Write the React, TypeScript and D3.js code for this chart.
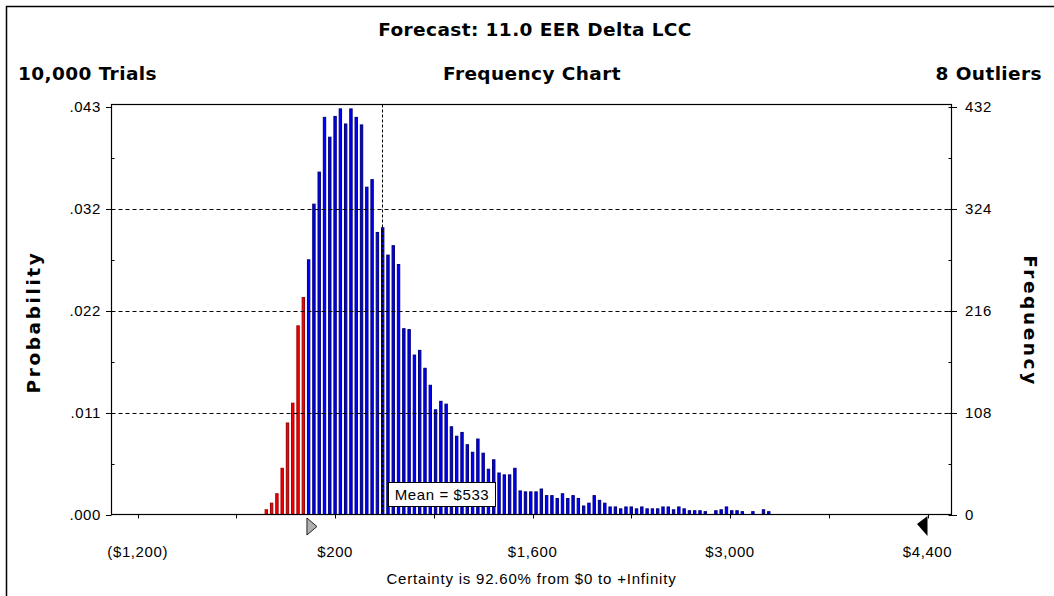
import * as d3 from "d3";

// forecast histogram: 96 bins of $37.50 starting at -$300
const binStart = -300;
const binWidth = 37.5;
const frequencies = [
  5, 12, 22, 49, 97, 118, 200, 230,
  270, 329, 363, 421, 400, 422, 430, 414, 430, 421, 413, 347, 355, 299, 304, 275, 285, 265,
  197, 196, 169, 174, 155, 137, 111, 120, 117, 93, 83, 87, 74, 66, 80, 65, 48, 58, 44,
  42, 42, 49, 25, 24, 24, 24, 27, 20, 20, 17, 22, 17, 20, 17, 9, 12, 20, 15, 12, 8, 8, 6, 8, 8,
  6, 8, 6, 6, 6, 8, 8, 5, 8, 6,
  4, 4, 4, 3, 0, 4, 5, 8, 4, 4, 3, 0, 3, 0, 5, 3,
];
const trials = 10000;
const meanValue = 533;
const certaintyFrom = 0;
const xMajorTicks = [-1200, 200, 1600, 3000, 4400];
const xMinorTicks = [-1200, -500, 200, 900, 1600, 2300, 3000, 3700, 4400];
const yTicks = [0, 108, 216, 324, 432];
const yMinorTicks = [54, 162, 270, 378];

const W = 1054;
const H = 596;
const left = 111.5;
const right = 951.5;
const top = 104.5;
const bottom = 514.5;

const small = "'Liberation Sans', Arial, sans-serif";
const bold = "'DejaVu Sans', Verdana, sans-serif";

export default function App() {
  const x = d3.scaleLinear().domain([-1200, 4400]).range([137.7, 927.5]);
  const y = d3.scaleLinear().domain([0, 432]).range([bottom, 107]);
  const money = (v: number) =>
    v < 0 ? `($${d3.format(",")(-v)})` : `$${d3.format(",")(v)}`;
  const prob = (c: number) => d3.format(".3f")(c / trials).replace(/^0/, "");

  const bars = frequencies.map((f, i) => {
    const lo = binStart + i * binWidth;
    return { lo, hi: lo + binWidth, f };
  });

  const x0 = x(certaintyFrom);
  const xEnd = x(4400);
  const xm = x(meanValue);

  return (
    <svg
      width={W}
      height={H}
      style={{ position: "absolute", left: 0, top: 0, background: "#fff" }}
    >
      <rect x={6.5} y={6.5} width={1060} height={620} fill="#fff" stroke="#000" strokeWidth={1.5} />

      <text x={535} y={36} textAnchor="middle" fontFamily={bold} fontWeight="bold" fontSize={18.5} letterSpacing={0.4}>
        Forecast: 11.0 EER Delta LCC
      </text>
      <text x={18} y={80} fontFamily={bold} fontWeight="bold" fontSize={18.5} letterSpacing={0.4}>
        10,000 Trials
      </text>
      <text x={532} y={80} textAnchor="middle" fontFamily={bold} fontWeight="bold" fontSize={18.5} letterSpacing={0.4}>
        Frequency Chart
      </text>
      <text x={1042} y={80} textAnchor="end" fontFamily={bold} fontWeight="bold" fontSize={18.5} letterSpacing={0.4}>
        8 Outliers
      </text>

      {/* bars */}
      {bars.map((b, i) =>
        b.f > 0 ? (
          <rect
            key={i}
            x={x(b.lo) + 0.5}
            y={y(b.f)}
            width={x(b.hi) - x(b.lo) - 2.9}
            height={y(0) - y(b.f)}
            fill={b.lo < certaintyFrom ? "#ff0000" : "#0000ff"}
            stroke={b.lo < certaintyFrom ? "#9a0000" : "#00007a"}
            strokeWidth={1}
          />
        ) : null
      )}

      {/* gridlines */}
      {yTicks.slice(1, -1).map((t) => (
        <line key={t} x1={left} x2={right} y1={Math.round(y(t)) + 0.5} y2={Math.round(y(t)) + 0.5}
          stroke="#000" strokeDasharray="4,3" />
      ))}

      {/* mean line */}
      <line x1={Math.round(xm) + 0.5} x2={Math.round(xm) + 0.5} y1={top} y2={bottom} stroke="#000" strokeDasharray="3,2" />

      {/* frame */}
      <rect x={left} y={top} width={right - left} height={bottom - top} fill="none" stroke="#000" strokeWidth={1.2} />

      {/* left and right axes */}
      {yTicks.map((t) => (
        <g key={t}>
          <line x1={106} x2={t === 0 || t === 432 ? left : 115} y1={Math.round(y(t)) + 0.5} y2={Math.round(y(t)) + 0.5} stroke="#000" />
          <text x={101} y={y(t) + 5} textAnchor="end" fontFamily={small} fontSize={15} letterSpacing={0.6}>
            {prob(t)}
          </text>
          <line x1={right - 3} x2={957} y1={Math.round(y(t)) + 0.5} y2={Math.round(y(t)) + 0.5} stroke="#000" />
          <text x={965} y={y(t) + 5} fontFamily={small} fontSize={15} letterSpacing={0.6}>
            {t}
          </text>
        </g>
      ))}
      {yMinorTicks.map((t) => (
        <g key={t}>
          <line x1={left} x2={left + 3} y1={Math.round(y(t)) + 0.5} y2={Math.round(y(t)) + 0.5} stroke="#000" />
          <line x1={right - 3} x2={right} y1={Math.round(y(t)) + 0.5} y2={Math.round(y(t)) + 0.5} stroke="#000" />
        </g>
      ))}

      {/* x axis */}
      {xMinorTicks.map((t) => (
        <line key={t} x1={Math.round(x(t)) + 0.5} x2={Math.round(x(t)) + 0.5} y1={bottom} y2={bottom + 4} stroke="#000" />
      ))}
      {xMajorTicks.map((t) => (
        <text key={t} x={x(t)} y={557} textAnchor="middle" fontFamily={small} fontSize={15} letterSpacing={0.6}>
          {money(t)}
        </text>
      ))}

      {/* certainty markers */}
      <path
        d={`M${x0},${518} L${x0},${535} L${x0 + 10},${526.5} Z`}
        fill="#b0b0b0"
        stroke="#222"
        strokeWidth={1}
      />
      <path d={`M${xEnd},${516} L${xEnd},${536} L${xEnd - 10.5},${524} Z`} fill="#000" />

      {/* mean label */}
      <rect x={388.5} y={482.5} width={107} height={24} fill="#fff" stroke="#000" />
      <text x={442} y={500} textAnchor="middle" fontFamily={small} fontSize={15} letterSpacing={0.6}>
        Mean = ${meanValue}
      </text>

      <text x={(left + right) / 2} y={584} textAnchor="middle" fontFamily={small} fontSize={15} letterSpacing={0.8}>
        Certainty is 92.60% from $0 to +Infinity
      </text>

      <text
        transform="translate(40,322) rotate(-90)"
        textAnchor="middle"
        fontFamily={bold}
        fontWeight="bold"
        fontSize={18.5}
        letterSpacing={2.6}
      >
        Probability
      </text>
      <text
        transform="translate(1024,321) rotate(90)"
        textAnchor="middle"
        fontFamily={bold}
        fontWeight="bold"
        fontSize={18.5}
        letterSpacing={2.6}
      >
        Frequency
      </text>
    </svg>
  );
}
